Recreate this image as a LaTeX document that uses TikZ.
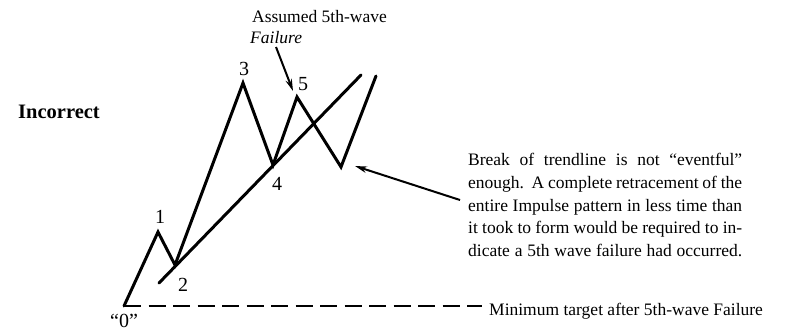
\documentclass[tikz,border=0pt]{standalone}
\usepackage{fontspec}
\setmainfont{Liberation Serif}
\usetikzlibrary{arrows.meta}
\begin{document}
\begin{tikzpicture}[x=1pt,y=-1pt,
  wave/.style={line width=3pt, line join=miter, line cap=round},
  lbl/.style={font=\fontsize{20}{24}\selectfont, inner sep=0pt, anchor=base},
  txt/.style={font=\fontsize{17.5}{22.8}\selectfont, inner sep=0pt, anchor=base west},
  ptr/.style={line width=2pt, -{Stealth[length=12pt,width=6.5pt]}},
  target/.style={line width=2.5pt, dash pattern=on 17pt off 7.5pt}]
\useasboundingbox (0,0) rectangle (789,330);
% wave points
\coordinate (p0) at (124,306);
\coordinate (p1) at (158,232);
\coordinate (p2) at (175,265);
\coordinate (p3) at (243,83);
\coordinate (p4) at (273,165);
\coordinate (p5) at (297,97);
\coordinate (p6) at (341,167);
\coordinate (p7) at (376,76);
\coordinate (t0) at (159,283);
\coordinate (t1) at (361,75);
\coordinate (d1) at (482,306);
% wave and trendline
\draw[wave] (p0) -- (p1) -- (p2) -- (p3) -- (p4) -- (p5) -- (p6) -- (p7);
\draw[wave] (t0) -- (t1);
\draw[target] (p0) -- (d1);
% labels
\node[lbl] (n0) at (124,327) {“0”};
\node[lbl] (n1) at (160,223) {1};
\node[lbl] (n2) at (183,291) {2};
\node[lbl] (n3) at (244,75) {3};
\node[lbl] (n4) at (277,190) {4};
\node[lbl] (n5) at (303,90) {5};
\node[txt, font=\fontsize{20.5}{24}\selectfont\bfseries] (inc) at (18,118) {Incorrect};
\node[txt] (as1) at (252,22) {Assumed 5th-wave};
\node[txt, font=\fontsize{17.5}{22.8}\selectfont\itshape] (as2) at (250,43) {Failure};
\node[txt] (mt) at (489,315) {Minimum target after 5th-wave Failure};
% paragraph
\node[txt] (l1) at (468,165) {\makebox[274pt][s]{Break of trendline is not “eventful”}};
\node[txt] (l2) at (468,188) {\makebox[274pt][s]{enough.\ \ A complete retracement of the}};
\node[txt] (l3) at (468,211) {\makebox[274pt][s]{entire Impulse pattern in less time than}};
\node[txt] (l4) at (468,233.5) {\makebox[274pt][s]{it took to form would be required to in-}};
\node[txt] (l5) at (468,256) {\makebox[274pt][s]{dicate a 5th wave failure had occurred.}};
% arrows
\coordinate (fa) at (276,47);
\coordinate (fb) at (293,91);
\draw[ptr] (fa) -- (fb);
\coordinate (pa) at (460,200);
\coordinate (pb) at (355,166);
\draw[ptr] (pa) -- (pb);
\end{tikzpicture}
\end{document}
